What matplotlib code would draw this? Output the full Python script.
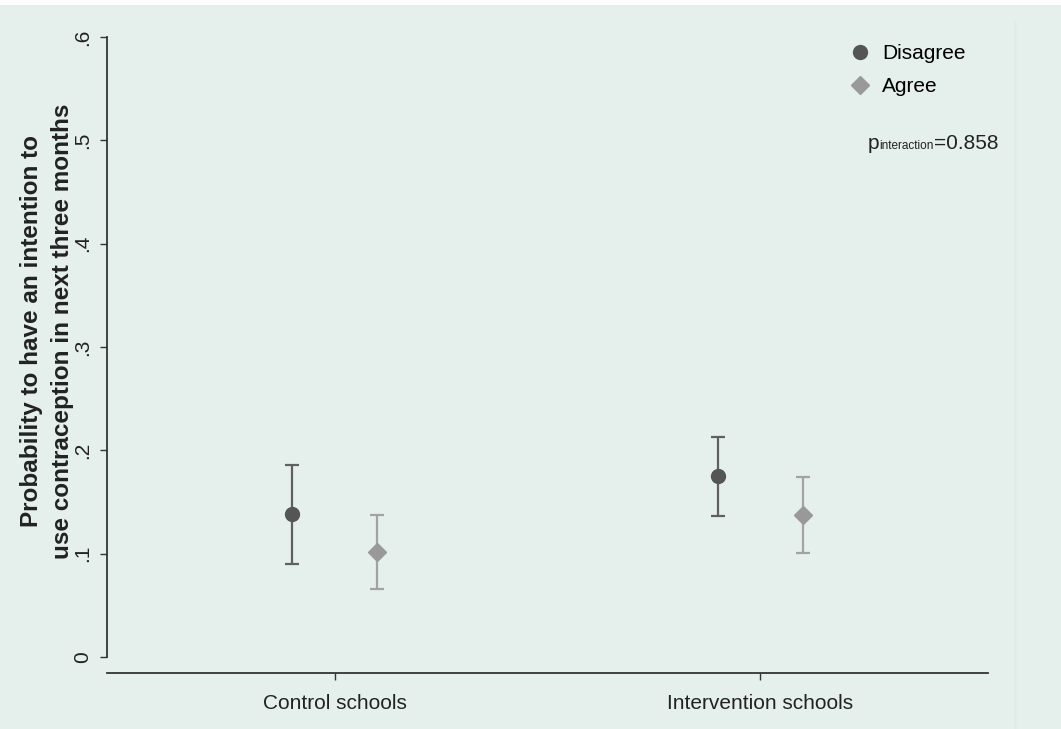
import matplotlib.pyplot as plt
from matplotlib.patches import Rectangle

plt.rcParams['font.family'] = ['Liberation Sans', 'DejaVu Sans']

# data
groups = ["Control schools", "Intervention schools"]
disagree_est = [0.138, 0.175]
disagree_lo = [0.090, 0.136]
disagree_hi = [0.186, 0.213]
agree_est = [0.102, 0.137]
agree_lo = [0.066, 0.101]
agree_hi = [0.137, 0.174]
yticks = [0, 0.1, 0.2, 0.3, 0.4, 0.5, 0.6]
ytick_labels = ["0", ".1", ".2", ".3", ".4", ".5", ".6"]
p_text = "=0.858"

bg = "#E5EFEC"
dark = "#555555"
light = "#999999"

fig = plt.figure(figsize=(10.61, 7.29), dpi=100, facecolor="white")
fig.patches.append(Rectangle((0, 0), 1, 1 - 5 / 729, transform=fig.transFigure,
                             facecolor=bg, edgecolor="none", zorder=-10))
fig.add_artist(plt.Line2D([1015 / 1061, 1015 / 1061], [0, 1 - 21 / 729],
                          color="#DFE9E5", lw=1))

ax = fig.add_axes([107 / 1061, 56 / 729, (988 - 107) / 1061, (673 - 37) / 729])
ax.set_facecolor("none")

x = [1, 2]
off = 0.1
xd = [v - off for v in x]
xa = [v + off for v in x]

ax.errorbar(xd, disagree_est,
            yerr=[[e - l for e, l in zip(disagree_est, disagree_lo)],
                  [h - e for e, h in zip(disagree_est, disagree_hi)]],
            fmt="none", ecolor="#606060", elinewidth=1.6, capsize=5, capthick=1.6)
ax.errorbar(xa, agree_est,
            yerr=[[e - l for e, l in zip(agree_est, agree_lo)],
                  [h - e for e, h in zip(agree_est, agree_hi)]],
            fmt="none", ecolor="#A3A3A3", elinewidth=1.6, capsize=5, capthick=1.6)
ax.plot(xd, disagree_est, "o", color=dark, ms=10, ls="none", label="Disagree")
ax.plot(xa, agree_est, "D", color=light, ms=9, ls="none", label="Agree")

ax.set_xlim(0.464, 2.536)
ax.set_ylim(-16 / 1033.3, 0.6)
ax.set_xticks(x)
ax.set_xticklabels(groups, fontsize=15)
ax.set_yticks(yticks)
ax.set_yticklabels(ytick_labels, fontsize=15, rotation=90, va="center")

for s in ["top", "right"]:
    ax.spines[s].set_visible(False)
ax.spines["left"].set_bounds(0, 0.6)
ax.spines["left"].set_color("#333333")
ax.spines["bottom"].set_color("#333333")
ax.spines["left"].set_linewidth(1.3)
ax.spines["bottom"].set_linewidth(1.3)
ax.tick_params(axis="both", length=5, width=1, color="#333333", labelcolor="#222222")
ax.tick_params(axis="x", pad=10)
ax.tick_params(axis="y", pad=6)

fig.text(47 / 1061, 1 - 331 / 729,
         "Probability to have an intention to\nuse contraception in next three months",
         rotation=90, ha="center", va="center", fontsize=17.5, fontweight="bold",
         linespacing=1.4, color="#222222")

ax.legend(loc="upper left", bbox_to_anchor=(837 / 1061, 1 - 34 / 729),
          bbox_transform=fig.transFigure, frameon=False, fontsize=15,
          handletextpad=0.45, labelspacing=0.65, borderpad=0, handlelength=1.2)

# p_interaction: "p", small "interaction" on the same baseline, then the value
x0 = 868 / 1061
yb = 1 - 149 / 729
t1 = fig.text(x0, yb, "p", fontsize=15, color="#222222", va="baseline")
fig.canvas.draw()
r = fig.canvas.get_renderer()
x1 = x0 + t1.get_window_extent(r).width / fig.bbox.width
t2 = fig.text(x1, yb, "interaction", fontsize=8.5, color="#222222", va="baseline")
fig.canvas.draw()
x2 = x1 + t2.get_window_extent(r).width / fig.bbox.width
fig.text(x2, yb, p_text, fontsize=15, color="#222222", va="baseline")

fig.savefig("out.png", dpi=100, facecolor=fig.get_facecolor())
